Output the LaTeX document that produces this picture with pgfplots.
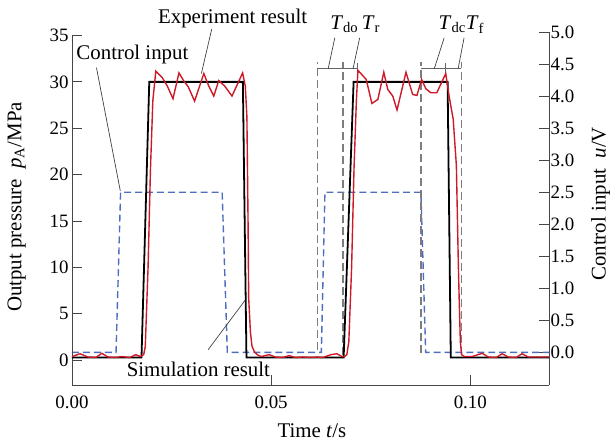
\documentclass[border=0pt]{standalone}
\usepackage{fontspec}
\setmainfont{Liberation Serif}
\usepackage{pgfplots}
\pgfplotsset{compat=1.18}
\definecolor{cred}{RGB}{205,25,40}
\definecolor{cblue}{RGB}{80,110,190}
\definecolor{cgray}{RGB}{125,125,125}
\definecolor{cspine}{RGB}{70,70,70}
\begin{document}
\begin{tikzpicture}
\begin{scope}[x=1pt,y=-1pt,shift={(-72.4pt,387.3pt)}]
\path[use as bounding box] (0,0) rectangle (610,448);
\end{scope}
% right axis: control input
\begin{axis}[
  scale only axis, width=479.9pt, height=355pt,
  xmin=0, xmax=0.1198, ymin=-0.51, ymax=5,
  axis x line=none, axis y line*=right,
  axis line style={-, line width=0.9pt, cspine},
  tick align=inside, major tick length=10pt,
  tick style={line width=0.9pt, cspine},
  ytick={0,0.5,1,1.5,2,2.5,3,3.5,4,4.5,5},
  yticklabels={0.0,0.5,1.0,1.5,2.0,2.5,3.0,3.5,4.0,4.5,5.0},
  tick label style={font=\fontsize{19}{22}\selectfont},
  yticklabel style={xshift=-2pt},
  clip=false,
]
\addplot[cblue, line width=1.4pt, dash pattern=on 7pt off 4pt] coordinates {
(0,0) (0.01106,0) (0.0122,2.5) (0.0377,2.5) (0.0390,0) (0.0626,0) (0.0635,2.5) (0.0876,2.5) (0.0888,0) (0.1198,0)};
\end{axis}
% left axis: output pressure
\begin{axis}[
  scale only axis, width=479.9pt, height=351.6pt,
  xmin=0, xmax=0.1198, ymin=-2.68, ymax=35,
  axis x line*=bottom, axis y line*=left,
  axis line style={-, line width=0.9pt, cspine},
  tick align=inside, major tick length=10pt,
  tick style={line width=0.9pt, cspine},
  xtick={0,0.05,0.1}, xticklabels={0.00,0.05,0.10}, scaled x ticks=false,
  ytick={0,5,10,15,20,25,30,35},
  /pgf/number format/assume math mode=true,
  tick label style={font=\fontsize{19}{22}\selectfont},
  xticklabel style={yshift=-7pt},
  clip=false,
]
% gray dashed marker lines
\addplot[cgray, line width=1.3pt, dash pattern=on 8pt off 4pt] coordinates {(0.06163,1.1) (0.06163,32.1)};
\addplot[cgray, line width=1.3pt, dash pattern=on 8pt off 4pt] coordinates {(0.06805,0.6) (0.06805,32.1)};
\addplot[cgray, line width=1.3pt, dash pattern=on 8pt off 4pt] coordinates {(0.08759,0.8) (0.08759,32.1)};
\addplot[cgray, line width=1.3pt, dash pattern=on 8pt off 4pt] coordinates {(0.09775,0.6) (0.09775,32.1)};
% brackets
\addplot[cgray!80!black, line width=1pt] coordinates {(0.06163,31.4) (0.07179,31.4)};
\addplot[cgray!80!black, line width=1pt] coordinates {(0.07179,30.9) (0.07179,32.0)};
\addplot[cgray!80!black, line width=1pt] coordinates {(0.08759,31.4) (0.09775,31.4)};
\addplot[cgray!80!black, line width=1pt] coordinates {(0.09383,30.9) (0.09383,32.0)};
% simulation
\addplot[black, line width=1.8pt] coordinates {
(0,0.3) (0.01745,0.3) (0.0194,30) (0.0429,30) (0.0438,0.3) (0.0682,0.3) (0.0707,30) (0.0943,30) (0.0951,0.3) (0.1198,0.3)};
% experiment
\addplot[cred, line width=1.4pt] coordinates {
(0,0.4) (0.002,0.7) (0.004,0.35) (0.006,0.3) (0.0075,0.75) (0.009,0.35) (0.011,0.3) (0.0125,0.4) (0.0145,0.3) (0.016,0.6) (0.0172,0.4) (0.0180,0.6)
(0.0184,1.5) (0.0191,10) (0.0197,20.6) (0.0203,28) (0.02104,31.15)
(0.02269,30.44) (0.02394,29.54) (0.02536,28.19) (0.02686,30.97) (0.02810,30.08) (0.02918,29.48) (0.03078,27.93)
(0.03310,30.90) (0.03435,29.54) (0.03560,28.47) (0.03685,30.15) (0.03835,29.54) (0.04017,28.47) (0.04284,30.97)
(0.04351,29.54) (0.04391,26.3) (0.0442,15) (0.04436,6.7) (0.0448,3) (0.0452,1.5) (0.0458,0.9) (0.0465,0.6)
(0.0475,0.4) (0.0495,0.6) (0.051,0.35) (0.053,0.3) (0.0545,0.5) (0.056,0.3) (0.058,0.35) (0.060,0.3) (0.0615,0.35) (0.063,0.3) (0.065,0.6) (0.0665,0.7) (0.0678,0.4) (0.0685,0.4) (0.0690,0.6)
(0.0695,2) (0.0702,10) (0.0708,20.6) (0.0714,28) (0.07179,31.25)
(0.07387,30.26) (0.07529,27.68) (0.07679,28.11) (0.07828,31.04) (0.07928,29.19) (0.08053,28.47) (0.08160,26.97)
(0.08385,31.04) (0.08552,28.65) (0.08660,28.54) (0.08777,30.26) (0.08884,29.26) (0.09009,28.83) (0.09159,28.83)
(0.09383,30.90) (0.09468,28.47) (0.09526,27.04) (0.0957,26) (0.0965,21) (0.0970,10.2) (0.0972,6.7) (0.0975,2) (0.0978,0.6)
(0.0985,0.4) (0.1005,0.4) (0.1030,0.75) (0.1045,0.35) (0.1065,0.3) (0.1080,0.7) (0.1095,0.35) (0.1115,0.3) (0.1130,0.7) (0.1145,0.35) (0.1198,0.35)};
\end{axis}
% annotations in pixel space
\begin{scope}[x=1pt,y=-1pt,shift={(-72.4pt,387.3pt)}, font=\fontsize{21}{24}\selectfont]
\draw[black!75, line width=0.7pt] (97,68) -- (121,192);
\draw[black!75, line width=0.7pt] (213,29) -- (202.5,74);
\draw[black!75, line width=0.7pt] (209.3,351.7) -- (246.7,301.7);
\draw[black!75, line width=0.7pt] (336.7,38) -- (330,69.3);
\draw[black!75, line width=0.7pt] (361.7,38) -- (355,69.3);
\draw[black!75, line width=0.7pt] (446.7,38) -- (436.7,69.3);
\draw[black!75, line width=0.7pt] (466.7,38) -- (460.7,69.3);
\node[anchor=base west, inner sep=0pt] at (76.7,60) {Control input};
\node[anchor=base west, inner sep=0pt] at (158.8,23.5) {Experiment result};
\node[anchor=base west, inner sep=0pt] at (127.3,378.3) {Simulation result};
\node[anchor=base west, inner sep=0pt] at (332,30) {\textit{T}\textsubscript{do}\,\textit{T}\textsubscript{r}};
\node[anchor=base west, inner sep=0pt] at (441,30) {\textit{T}\textsubscript{dc}\textit{T}\textsubscript{f}};
\node[anchor=base, inner sep=0pt, rotate=90] at (21.5,208) {Output pressure\enspace\textit{p}\textsubscript{A}/MPa};
\node[anchor=base, inner sep=0pt, rotate=90] at (609,205) {Control input\enspace\textit{u}/V};
\node[anchor=base, inner sep=0pt] at (313.7,440) {Time \textit{t}/s};
\end{scope}
\end{tikzpicture}
\end{document}
